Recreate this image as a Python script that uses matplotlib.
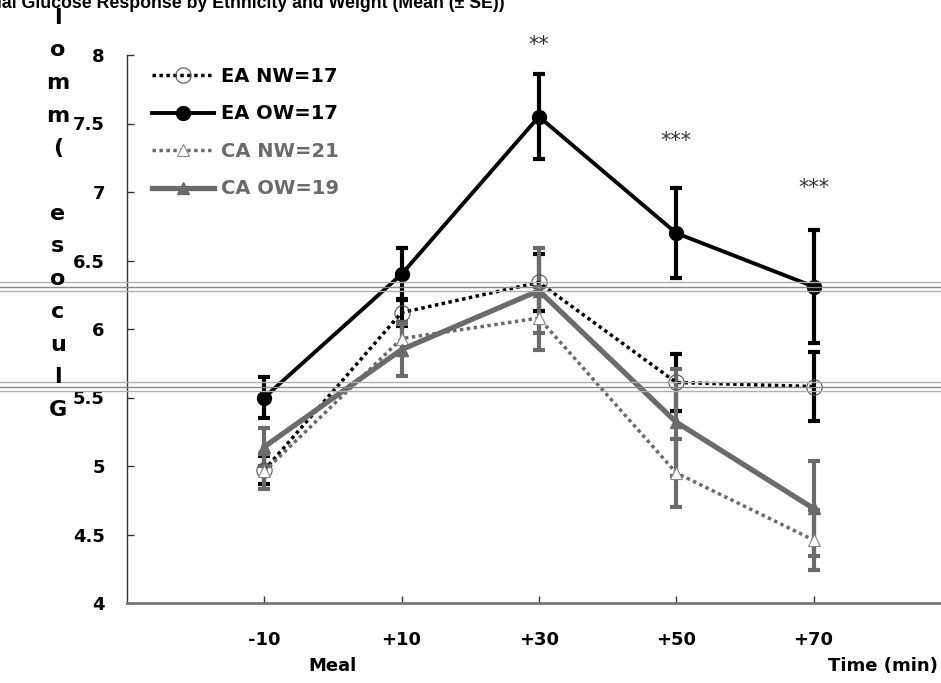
import matplotlib
matplotlib.use("Agg")
import matplotlib.pyplot as plt
import matplotlib.transforms as mtransforms
from matplotlib.lines import Line2D

# time points (x categories)
time_labels = ["-10", "+10", "+30", "+50", "+70"]

# mean glucose (mmol/l) and SE for each group
ea_nw_mean = [4.97, 6.12, 6.34, 5.61, 5.58]
ea_nw_se = [0.10, 0.10, 0.21, 0.21, 0.25]
ea_ow_mean = [5.50, 6.40, 7.55, 6.70, 6.31]
ea_ow_se = [0.15, 0.19, 0.31, 0.33, 0.41]
ca_nw_mean = [4.96, 5.93, 6.08, 4.95, 4.46]
ca_nw_se = [0.13, 0.12, 0.23, 0.25, 0.22]
ca_ow_mean = [5.14, 5.85, 6.28, 5.32, 4.69]
ca_ow_se = [0.14, 0.19, 0.31, 0.39, 0.35]

series_labels = ["EA NW=17", "EA OW=17", "CA NW=21", "CA OW=19"]

# significance marks
sig_idx = [2, 3, 4]
sig_text = ["**", "***", "***"]
sig_y = [8.07, 7.37, 7.03]

# faint double rules that run across the scanned figure
artifact_levels = [6.31, 5.58]

title = "Postprandial Glucose Response by Ethnicity and Weight (Mean (\u00b1 SE))"
# only this part of the stacked y label is visible in the original
ylabel = "Glucose (mmol"

BLACK = "#000000"
GRAY = "#6b6b6b"
FONT = ["DejaVu Sans"]

plt.rcParams["font.family"] = FONT
plt.rcParams["font.weight"] = "bold"

fig = plt.figure(figsize=(9.41, 6.83), dpi=100)
ax = fig.add_axes([127 / 941, 1 - 603 / 683, 814 / 941, 548 / 683])

x = list(range(1, len(time_labels) + 1))

styles = [
    dict(mean=ea_nw_mean, se=ea_nw_se, color=BLACK, ls=(0, (1, 1)), lw=2.5,
         marker="o", ms=11, mfc="none", mec="#555555", mew=0.8),
    dict(mean=ea_ow_mean, se=ea_ow_se, color=BLACK, ls="-", lw=2.8,
         marker="o", ms=10, mfc=BLACK, mec=BLACK, mew=1),
    dict(mean=ca_nw_mean, se=ca_nw_se, color=GRAY, ls=(0, (1, 1)), lw=2.5,
         marker="^", ms=9, mfc="white", mec="#888888", mew=0.8),
    dict(mean=ca_ow_mean, se=ca_ow_se, color=GRAY, ls="-", lw=3.8,
         marker="^", ms=9, mfc=GRAY, mec=GRAY, mew=1),
]

handles = []
for st, lab in zip(styles, series_labels):
    ax.errorbar(x, st["mean"], yerr=st["se"], fmt="none", ecolor=st["color"],
                elinewidth=3, capsize=4.5, capthick=3, zorder=2)
    h, = ax.plot(x, st["mean"], color=st["color"], linestyle=st["ls"], linewidth=st["lw"],
                 marker=st["marker"], markersize=st["ms"], markerfacecolor=st["mfc"],
                 markeredgecolor=st["mec"], markeredgewidth=st["mew"], label=lab, zorder=3)
    handles.append(h)

for i, t, yv in zip(sig_idx, sig_text, sig_y):
    ax.text(x[i], yv, t, ha="center", va="center", fontsize=15, fontweight="normal",
            color="#333333", clip_on=False)

ax.set_xlim(0, 814 / 137.3)
ax.set_ylim(4, 8)
ax.set_xticks(x)
ax.set_xticklabels(time_labels)
ax.set_yticks([4, 4.5, 5, 5.5, 6, 6.5, 7, 7.5, 8])
ax.set_yticklabels(["4", "4.5", "5", "5.5", "6", "6.5", "7", "7.5", "8"])
ax.tick_params(axis="x", direction="in", length=5, width=1, pad=20, labelsize=13, color="#333333")
ax.tick_params(axis="y", direction="in", length=5, width=1, pad=16, labelsize=13, color="#333333")
for lbl in ax.get_xticklabels() + ax.get_yticklabels():
    lbl.set_fontweight("bold")

for side in ["top", "right"]:
    ax.spines[side].set_visible(False)
ax.spines["left"].set_color("#333333")
ax.spines["left"].set_linewidth(1)
ax.spines["bottom"].set_color("#777777")
ax.spines["bottom"].set_linewidth(2)

# double rules across the whole width
trans = mtransforms.blended_transform_factory(fig.transFigure, ax.transData)
for lvl in artifact_levels:
    for off, c in zip([-0.03, 0.0, 0.03], ["#b0b0b0", "#888888", "#b0b0b0"]):
        fig.add_artist(Line2D([0, 1], [lvl + off, lvl + off], transform=trans,
                              color=c, linewidth=1, zorder=1))

leg = ax.legend(handles=handles, loc="upper left", bbox_to_anchor=(152 / 941, 1 - 67 / 683),
                bbox_transform=fig.transFigure, frameon=False, handlelength=3.2,
                handletextpad=0.35, labelspacing=0.95, borderpad=0, borderaxespad=0,
                prop={"weight": "bold", "size": 14})
for txt, st in zip(leg.get_texts(), styles):
    txt.set_color(st["color"])

# stacked y label, letters upright, read bottom to top
for k, ch in enumerate(ylabel):
    fig.text(58 / 941, 1 - (410 - 32.7 * k) / 683, ch, ha="center", va="center",
             fontsize=16, fontweight="bold")

# title is cut off at the left and top edge in the original
fig.text(505 / 941, 1 - 4 / 683, title, ha="right", va="center", fontsize=12.8,
         fontweight="bold", family=["Liberation Sans", "DejaVu Sans"])
fig.text(332 / 941, 1 - 666 / 683, "Meal", ha="center", va="center", fontsize=13, fontweight="bold")
fig.text(938 / 941, 1 - 666 / 683, "Time (min)", ha="right", va="center", fontsize=13, fontweight="bold")

fig.savefig("out.png", dpi=100)
